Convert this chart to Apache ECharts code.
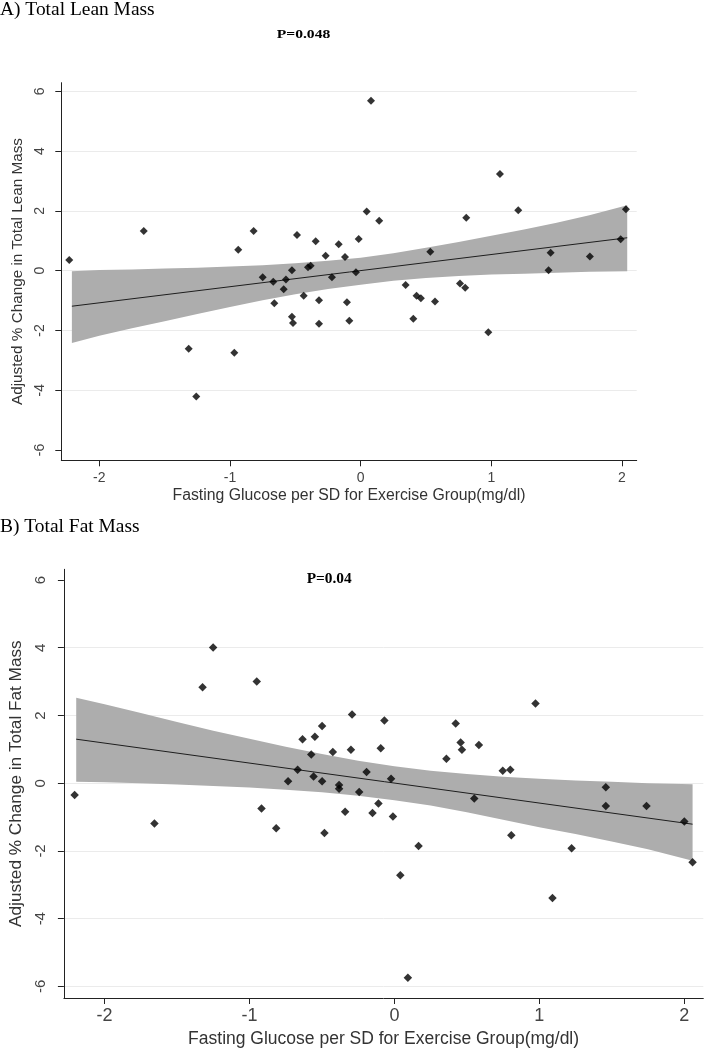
<!DOCTYPE html>
<html>
<head>
<meta charset="utf-8">
<script src="https://cdn.jsdelivr.net/npm/echarts@6/dist/echarts.min.js"></script>
<style>
html,body{margin:0;padding:0;background:#fff;}
#chart{width:704px;height:1049px;}
</style>
</head>
<body>
<div id="chart"></div>
<script>
// ---------- data ----------
var xTicks = [-2, -1, 0, 1, 2];
var yTicks = [-6, -4, -2, 0, 2, 4, 6];

// A) Total Lean Mass
var leanX = [-2.23,-1.66,-1.316,-1.258,-0.967,-0.937,-0.819,-0.75,-0.669,-0.661,-0.589,-0.572,-0.526,-0.526,-0.518,-0.487,-0.436,-0.403,-0.383,-0.344,-0.319,-0.319,-0.268,-0.22,-0.168,-0.12,-0.105,-0.087,-0.036,-0.015,0.046,0.079,0.142,0.344,0.403,0.428,0.461,0.533,0.569,0.76,0.80,0.808,0.977,1.066,1.206,1.438,1.454,1.754,1.99,2.03];
var leanY = [0.36,1.33,-2.61,-4.21,-2.75,0.70,1.33,-0.22,-0.37,-1.09,-0.62,-0.30,0.01,-1.54,-1.75,1.19,-0.84,0.11,0.16,0.98,-0.99,-1.78,0.50,-0.22,0.88,0.46,-1.06,-1.68,-0.05,1.06,1.98,5.68,1.67,-0.48,-1.61,-0.84,-0.92,0.63,-1.03,-0.43,-0.57,1.77,-2.06,3.23,2.02,0.01,0.60,0.47,1.05,2.05];
var fitLeanX = [-2.21, 2.04];
var fitLeanY = [-1.19, 1.10];
var bandLeanX = [-2.21,-2.0,-1.75,-1.5,-1.25,-1.0,-0.75,-0.5,-0.25,0,0.25,0.5,0.75,1.0,1.25,1.5,1.75,2.04];
var bandLeanUpper = [-0.02,0.02,0.04,0.07,0.10,0.135,0.18,0.25,0.33,0.43,0.58,0.77,0.96,1.17,1.38,1.60,1.85,2.19];
var bandLeanLower = [-2.42,-2.18,-1.93,-1.69,-1.45,-1.215,-0.99,-0.79,-0.61,-0.47,-0.34,-0.25,-0.18,-0.13,-0.10,-0.07,-0.04,-0.02];

// B) Total Fat Mass
var fatX = [-2.207,-1.656,-1.324,-1.251,-0.950,-0.917,-0.816,-0.734,-0.668,-0.634,-0.574,-0.558,-0.549,-0.499,-0.499,-0.483,-0.425,-0.382,-0.382,-0.340,-0.30,-0.292,-0.243,-0.192,-0.151,-0.11,-0.094,-0.069,-0.023,-0.01,0.041,0.093,0.167,0.359,0.423,0.457,0.466,0.551,0.583,0.748,0.80,0.807,0.974,1.091,1.223,1.459,1.459,1.74,2.001,2.058];
var fatY = [-0.35,-1.19,2.83,4.01,3.00,-0.75,-1.33,0.06,0.40,1.30,0.85,0.20,1.37,1.69,0.06,-1.47,0.92,-0.05,-0.16,-0.84,0.99,2.03,-0.26,0.33,-0.88,-0.60,1.03,1.85,0.13,-0.98,-2.72,-5.74,-1.85,0.72,1.76,1.20,0.99,-0.45,1.13,0.37,0.40,-1.54,2.35,-3.39,-1.92,-0.12,-0.67,-0.67,-1.13,-2.33];
var fitFatX = [-2.196, 2.058];
var fitFatY = [1.30, -1.21];
var bandFatX = [-2.196,-2.0,-1.75,-1.5,-1.25,-1.0,-0.75,-0.5,-0.25,0,0.25,0.5,0.75,1.0,1.25,1.5,1.75,2.058];
var bandFatUpper = [2.52,2.33,2.07,1.81,1.55,1.31,1.08,0.86,0.66,0.50,0.37,0.27,0.19,0.13,0.08,0.04,0.00,-0.03];
var bandFatLower = [0.04,0.03,0.00,-0.04,-0.08,-0.13,-0.19,-0.27,-0.37,-0.50,-0.66,-0.86,-1.08,-1.30,-1.50,-1.72,-1.95,-2.29];

// ---------- helpers ----------
var GRID = '#ebebeb', NONE = 'rgba(0,0,0,0)';
function zip(a, b) { return a.map(function (v, i) { return [v, b[i]]; }); }
function bandSeries(idx, bx, bu, bl) {
  return {
    type: 'custom', xAxisIndex: idx, yAxisIndex: idx, silent: true, z: 1,
    data: [[bx[0], bu[0]]],
    renderItem: function (params, api) {
      var up = bx.map(function (x, i) { return api.coord([x, bu[i]]); });
      var lo = bx.map(function (x, i) { return api.coord([x, bl[i]]); }).reverse();
      return { type: 'polygon', shape: { points: up.concat(lo) }, style: { fill: '#adadad' } };
    }
  };
}
function xAxisCfg(idx, min, max, name, nameSize, nameGap, labelSize, labelMargin) {
  return {
    type: 'value', gridIndex: idx, min: min, max: max,
    name: name, nameLocation: 'middle', nameGap: nameGap,
    nameTextStyle: { fontFamily: 'Liberation Sans', fontSize: nameSize, color: '#333' },
    axisLine: { show: true, onZero: false, lineStyle: { color: '#222', width: 1 } },
    axisTick: { show: true, length: 6, lineStyle: { color: '#222' }, customValues: xTicks },
    axisLabel: { customValues: xTicks, fontFamily: 'Liberation Sans', fontSize: labelSize, color: '#444', margin: labelMargin },
    splitLine: { show: false }
  };
}
function yAxisCfg(idx, min, max, name, nameSize, nameGap, labelSize, labelMargin, gridColors) {
  return {
    type: 'value', gridIndex: idx, min: min, max: max,
    name: name, nameLocation: 'middle', nameGap: nameGap, nameRotate: 90,
    nameTextStyle: { fontFamily: 'Liberation Sans', fontSize: nameSize, color: '#333' },
    axisLine: { show: true, onZero: false, lineStyle: { color: '#222', width: 1 } },
    axisTick: { show: true, length: 6, lineStyle: { color: '#222' }, customValues: yTicks },
    axisLabel: { customValues: yTicks, rotate: 90, fontFamily: 'Liberation Sans', fontSize: labelSize, color: '#444', margin: labelMargin },
    splitLine: { show: true, lineStyle: { color: gridColors, width: 1 } }
  };
}

var chart = echarts.init(document.getElementById('chart'), null, { renderer: 'canvas' });
var option = {
  backgroundColor: '#ffffff',
  animation: false,
  grid: [
    { left: 61.3, top: 82.7, width: 575.4, height: 377.6 },
    { left: 60, top: 569.3, width: 643.3, height: 430 }
  ],
  xAxis: [
    xAxisCfg(0, -2.291, 2.1125, 'Fasting Glucose per SD for Exercise Group(mg/dl)', 15.8, 27, 14, 11),
    xAxisCfg(1, -2.281, 2.132, 'Fasting Glucose per SD for Exercise Group(mg/dl)', 17.5, 32, 18, 9)
  ],
  yAxis: [
    yAxisCfg(0, -6.345, 6.288, 'Adjusted % Change in Total Lean Mass', 15.3, 21, 14, 14,
      [NONE, GRID, GRID, GRID, GRID, GRID, GRID]),
    yAxisCfg(1, -6.341, 6.315, 'Adjusted % Change in Total Fat Mass', 17.2, 28, 15, 16,
      [GRID, GRID, GRID, GRID, GRID, GRID, NONE])
  ],
  series: [
    bandSeries(0, bandLeanX, bandLeanUpper, bandLeanLower),
    { type: 'line', xAxisIndex: 0, yAxisIndex: 0, data: zip(fitLeanX, fitLeanY), showSymbol: false, symbol: 'none',
      lineStyle: { color: '#1e1e1e', width: 1 }, z: 2, silent: true },
    { type: 'scatter', xAxisIndex: 0, yAxisIndex: 0, data: zip(leanX, leanY), symbol: 'diamond', symbolSize: 8,
      itemStyle: { color: '#000' }, z: 3 },
    bandSeries(1, bandFatX, bandFatUpper, bandFatLower),
    { type: 'line', xAxisIndex: 1, yAxisIndex: 1, data: zip(fitFatX, fitFatY), showSymbol: false, symbol: 'none',
      lineStyle: { color: '#1e1e1e', width: 1 }, z: 2, silent: true },
    { type: 'scatter', xAxisIndex: 1, yAxisIndex: 1, data: zip(fatX, fatY), symbol: 'diamond', symbolSize: 8.5,
      itemStyle: { color: '#000' }, z: 3 }
  ],
  graphic: [
    { type: 'text', x: 0, y: 10.5, scaleX: 1.08,
      style: { text: 'A) Total Lean Mass', font: '18px "Liberation Serif"', fill: '#000', align: 'left', verticalAlign: 'middle' } },
    { type: 'text', x: 303.5, y: 35, scaleX: 1.2,
      style: { text: 'P=0.048', font: 'bold 13px "Liberation Serif"', fill: '#000', align: 'center', verticalAlign: 'middle' } },
    { type: 'text', x: 0, y: 527, scaleX: 1.08,
      style: { text: 'B) Total Fat Mass', font: '18px "Liberation Serif"', fill: '#000', align: 'left', verticalAlign: 'middle' } },
    { type: 'text', x: 329.2, y: 579.5, scaleX: 1.1,
      style: { text: 'P=0.04', font: 'bold 14px "Liberation Serif"', fill: '#000', align: 'center', verticalAlign: 'middle' } }
  ]
};
chart.setOption(option);
</script>
</body>
</html>
